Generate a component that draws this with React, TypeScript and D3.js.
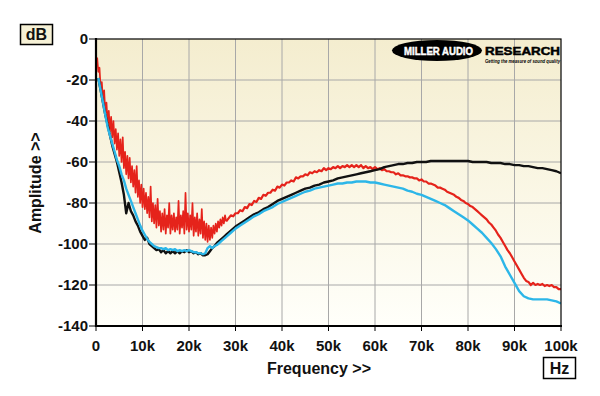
import React from "react";
import * as d3 from "d3";

// ---- data (frequency in kHz, amplitude in dB) ----
const xTicks = [0, 10, 20, 30, 40, 50, 60, 70, 80, 90, 100];
const xTickLabels = ["0", "10k", "20k", "30k", "40k", "50k", "60k", "70k", "80k", "90k", "100k"];
const yTicks = [0, -20, -40, -60, -80, -100, -120, -140];

// red trace, 0.25k .. 28k at 0.25k spacing
const redLowStart = 0.25;
const redLowStep = 0.25;
const redLow = [
  -9, -16, -14, -24, -21, -30, -25, -36, -31, -41,
  -35, -45, -38, -48, -40, -51, -44, -54, -46, -57,
  -49, -60, -48, -63, -55, -66, -57, -68, -58, -70,
  -62, -72, -64, -75, -62, -77, -69, -80, -71, -82,
  -73, -83, -75, -85, -77, -87, -72, -89, -80, -90,
  -81, -92, -78, -91, -84, -94, -85, -93, -83, -95,
  -86, -92, -80, -95, -86, -93, -85, -94, -87, -93,
  -79, -95, -86, -92, -84, -95, -75, -93, -85, -94,
  -86, -93, -80, -96, -87, -94, -85, -96, -88, -95,
  -83, -97, -89, -98, -90, -99, -91, -98, -92, -97,
  -91, -95, -90, -94, -89, -92, -88, -91, -87, -90,
  -86, -89,
];
// red trace, 28.5k .. 100k at 0.5k spacing
const redHighStart = 28.5;
const redHighStep = 0.5;
const redHigh = [
  -87.5, -86, -86.5, -85, -85, -83.5, -84, -82, -82.5, -80.5,
  -81, -79, -79.5, -77.5, -78, -76, -76.5, -75, -75, -73.5,
  -74, -72, -72.5, -71, -71.5, -70, -70, -69, -69.5, -67.5,
  -68, -67, -67, -66, -66.5, -65, -65.5, -64.5, -65, -64,
  -64.5, -63, -64, -63, -63.5, -62.5, -63, -62, -63, -62,
  -62.5, -61.5, -62.5, -61.5, -62.5, -61.5, -62.5, -61.5, -63, -62,
  -63, -62.5, -63.5, -62.5, -63.5, -63, -64, -63.5, -64.5, -64.5,
  -65, -65, -66, -65.5, -66.5, -66.5, -67, -67, -67.5, -67.5,
  -68, -68, -69, -68.5, -69.5, -69.5, -70.5, -70.5, -71, -71.5,
  -72.5, -72.5, -73, -73.5, -74.5, -75, -75.5, -76, -77, -77.5,
  -78.5, -79, -80, -80.5, -81.5, -82, -83, -84, -85, -86,
  -87, -88, -89.5, -90.5, -92, -93.5, -95.5, -97, -99, -101,
  -103, -104.5, -106.5, -108.5, -110.5, -112.5, -114.5, -116.5, -118, -118.5,
  -120, -119, -120, -119.5, -120, -119.5, -120.5, -120, -120.5, -120,
  -121, -121, -122, -122,
];

// black and cyan traces, 0.5k .. 28k at 0.5k spacing
const lowStart = 0.5;
const lowStep = 0.5;
const blackLow = [
  -19, -25, -31, -37, -42, -47, -52, -56, -60, -65,
  -70, -76, -85, -80, -84, -86, -89, -91, -94, -96,
  -98, -97, -100, -101, -102, -103, -102.5, -104, -103, -104.5,
  -103.5, -104.5, -103.5, -104.5, -103.5, -104.5, -103.5, -104, -103, -104,
  -103.5, -104.5, -104, -105, -104.5, -105.5, -105.5, -105, -103.5, -102,
  -101, -99.5, -98.5, -97.5, -96.5, -95.5,
];
const cyanLow = [
  -19, -25, -31, -37, -43, -47, -51, -55, -59, -62,
  -66, -69, -73, -76, -79, -82, -85, -88, -91, -93.5,
  -95.5, -97.5, -99, -100, -101, -101.5, -102, -102, -102.5, -102,
  -103, -102.5, -103, -102.5, -103.5, -103, -103.5, -103, -103.5, -103,
  -103.5, -104, -104, -104.5, -104.5, -105, -104.5, -102, -101, -102,
  -101, -100.5, -99.5, -98.5, -97.5, -96.5,
];
// black and cyan traces, 29k .. 100k at 1k spacing
const highStart = 29;
const highStep = 1;
const blackHigh = [
  -93.5, -91.5, -90, -88.5, -87, -85.5, -84.5, -83, -82, -80.5,
  -79, -78, -77, -76, -75, -74, -73, -72.5, -71.5, -71,
  -70, -69.5, -69, -68, -67.5, -67, -66.5, -66, -65.5, -65,
  -64.5, -64, -63.5, -62.5, -62, -61.5, -61, -61, -60.5, -60.5,
  -60, -60, -60, -59.5, -59.5, -59.5, -59.5, -59.5, -59.5, -59.5,
  -59.5, -59.5, -60, -60, -60, -60, -60.5, -60.5, -60.5, -61,
  -61, -61.5, -61.5, -62, -62, -62.5, -63, -63, -63.5, -64,
  -64.5, -65.5,
];
const cyanHigh = [
  -94.5, -92.5, -91, -89.5, -88, -86.5, -85.5, -84, -83, -82,
  -80.5, -79.5, -78.5, -77.5, -76.5, -75.5, -74.5, -74, -73, -72.5,
  -72, -71.5, -71, -70.5, -70.5, -70, -70, -69.5, -69.5, -69.5,
  -70, -70, -70.5, -71, -71.5, -72, -72.5, -73, -74, -74.5,
  -75.5, -76, -77, -78, -79, -80, -81, -82.5, -84, -85.5,
  -87, -88.5, -90.5, -92.5, -94.5, -97, -99.5, -102.5, -106, -111,
  -115, -119, -123, -125.5, -126.5, -127, -127, -127, -127, -127.5,
  -128, -129,
];

type Pt = [number, number];
function toPoints(start: number, step: number, vals: number[]): Pt[] {
  return vals.map((v, i) => [start + i * step, v] as Pt);
}

const FONT = "'Liberation Sans', Arial, Helvetica, sans-serif";

export default function App() {
  const W = 600;
  const H = 396;
  const left = 96;
  const right = 561;
  const top = 39;
  const bottom = 326;

  const x = d3.scaleLinear().domain([0, 100]).range([left, right]);
  const y = d3.scaleLinear().domain([-140, 0]).range([bottom, top]);
  const line = d3
    .line<Pt>()
    .x((d) => x(d[0]))
    .y((d) => y(d[1]));

  const redA = toPoints(redLowStart, redLowStep, redLow);
  const redB = toPoints(redHighStart, redHighStep, redHigh);
  const red = [...redA, ...redB];
  const black = [...toPoints(lowStart, lowStep, blackLow), ...toPoints(highStart, highStep, blackHigh)];
  const cyan = [...toPoints(lowStart, lowStep, cyanLow), ...toPoints(highStart, highStep, cyanHigh)];

  return (
    <svg
      width={W}
      height={H}
      style={{ position: "fixed", left: 0, top: 0, background: "#ffffff" }}
      fontFamily={FONT}
    >
      <defs>
        <linearGradient id="bg" x1="0" y1="0" x2="0" y2="1">
          <stop offset="0" stopColor="#f4edcf" />
          <stop offset="0.6" stopColor="#fbf8e8" />
          <stop offset="1" stopColor="#fffffa" />
        </linearGradient>
        <clipPath id="plot">
          <rect x={left} y={top} width={right - left} height={bottom - top} />
        </clipPath>
      </defs>
      <rect x={0} y={0} width={W} height={H} fill="#ffffff" />
      <rect x={left} y={top} width={right - left} height={bottom - top} fill="url(#bg)" />

      {/* grid */}
      <g stroke="#a8a8a8" strokeWidth={1}>
        {xTicks.slice(1, -1).map((t) => (
          <line key={"gx" + t} x1={x(t)} x2={x(t)} y1={top} y2={bottom} />
        ))}
        {yTicks.slice(1, -1).map((t) => (
          <line key={"gy" + t} x1={left} x2={right} y1={y(t)} y2={y(t)} />
        ))}
      </g>

      {/* logo */}
      <g>
        <ellipse cx={437} cy={50.5} rx={45} ry={10.5} fill="#000" />
        <text x={404} y={55} fill="#fff" stroke="#fff" strokeWidth={0.5} fontSize={11.5} fontWeight={900} textLength={69} lengthAdjust="spacingAndGlyphs">
          MILLER AUDIO
        </text>
        <text x={485} y={55} fill="#000" stroke="#000" strokeWidth={0.5} fontSize={11.5} fontWeight={900} textLength={75} lengthAdjust="spacingAndGlyphs">
          RESEARCH
        </text>
        <text x={485} y={62.5} fill="#000" fontSize={4.6} fontWeight={700} fontStyle="italic" textLength={75} lengthAdjust="spacingAndGlyphs">
          Getting the measure of sound quality
        </text>
      </g>

      {/* traces */}
      <g clipPath="url(#plot)" fill="none" strokeLinejoin="round">
        <path d={line(redA) || ""} stroke="#e5231b" strokeWidth={1.7} />
        <path d={line(red.slice(redA.length - 1)) || ""} stroke="#e5231b" strokeWidth={2.2} />
        <path d={line(black) || ""} stroke="#111111" strokeWidth={2.4} />
        <path d={line(cyan) || ""} stroke="#2cb6e8" strokeWidth={2.4} />
      </g>

      {/* frame */}
      <rect x={left} y={top} width={right - left} height={bottom - top} fill="none" stroke="#000" strokeWidth={1.2} />
      <line x1={left} x2={left} y1={top - 1} y2={bottom + 1} stroke="#000" strokeWidth={2.2} />
      <line x1={left - 1} x2={right + 1} y1={bottom} y2={bottom} stroke="#000" strokeWidth={2.2} />

      {/* y ticks */}
      <g>
        {yTicks.map((t) => (
          <g key={"yt" + t}>
            <line x1={left - 7} x2={left} y1={y(t)} y2={y(t)} stroke="#000" strokeWidth={1} />
            <text x={left - 8} y={y(t)} dy="0.36em" textAnchor="end" fontSize={15} fontWeight={700} fill="#111">
              {t}
            </text>
          </g>
        ))}
      </g>

      {/* x ticks */}
      <g>
        {xTicks.map((t, i) => (
          <g key={"xt" + t}>
            <line x1={x(t)} x2={x(t)} y1={bottom} y2={bottom + 5} stroke="#000" strokeWidth={1} />
            <text x={x(t)} y={350.5} textAnchor="middle" fontSize={15} fontWeight={700} fill="#111">
              {xTickLabels[i]}
            </text>
          </g>
        ))}
      </g>

      {/* axis titles */}
      <text x={319} y={374} textAnchor="middle" fontSize={16} fontWeight={700} fill="#111">
        Frequency &gt;&gt;
      </text>
      <text
        transform="translate(41,183) rotate(-90)"
        textAnchor="middle"
        fontSize={16}
        fontWeight={700}
        fill="#111"
      >
        Amplitude &gt;&gt;
      </text>

      {/* unit boxes */}
      <rect x={20.5} y={24.5} width={32} height={20} fill="#f6f1d6" stroke="#000" strokeWidth={1.5} />
      <text x={36.5} y={40} textAnchor="middle" fontSize={16} fontWeight={700} fill="#111">
        dB
      </text>
      <rect x={543.5} y={357.5} width={32} height={21} fill="#ffffff" stroke="#000" strokeWidth={1.5} />
      <text x={559.5} y={374} textAnchor="middle" fontSize={16} fontWeight={700} fill="#111">
        Hz
      </text>
    </svg>
  );
}
